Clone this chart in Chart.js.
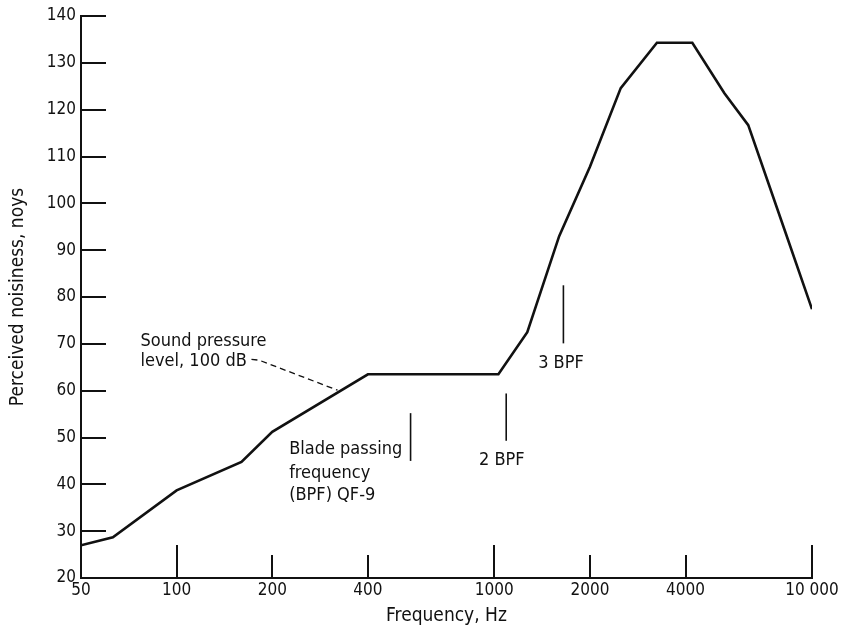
<!DOCTYPE html>
<html>
<head>
<meta charset="utf-8">
<script src="https://cdn.jsdelivr.net/npm/chart.js@4/dist/chart.umd.min.js"></script>
<style>
  html, body { margin: 0; padding: 0; background: #fff; }
</style>
</head>
<body>
<canvas id="myChart" width="842" height="631"></canvas>
<script>
// perceived noisiness curve
var freqHz = [50, 63, 100, 160, 200, 400, 1030, 1270, 1600, 2000, 2500, 3250, 4200, 5300, 6300, 8200, 10000];
var noys = [27.0, 28.7, 38.7, 44.8, 51.2, 63.5, 63.5, 72.5, 93.0, 107.8, 124.6, 134.3, 134.3, 123.5, 116.7, 94.3, 77.4];

var xTickValues = [50, 100, 200, 400, 1000, 2000, 4000, 10000];
var xTickLabels = ['50', '100', '200', '400', '1000', '2000', '4000', '10 000'];
var xTallTicks = [100, 1000, 10000];

// blade passing frequency markers (1, 2, 3 BPF)
var bpfFreq = [545, 1090, 1650];
var bpfLow = [45.0, 49.3, 70.1];
var bpfHigh = [55.2, 59.4, 82.5];

// dashed leader from the "Sound pressure level" note to the curve
var leaderFreq = [172, 182, 321];
var leaderNoys = [66.7, 66.5, 60.1];

var FONT = '"DejaVu Sans Condensed", "DejaVu Sans", sans-serif';
var INK = '#111';

function pts(xs, ys) {
  var out = [];
  for (var i = 0; i < xs.length; i++) out.push({x: xs[i], y: ys[i]});
  return out;
}

var datasets = [{
  data: pts(freqHz, noys),
  borderColor: INK,
  borderWidth: 2.6,
  pointRadius: 0,
  tension: 0
}, {
  data: pts(leaderFreq, leaderNoys),
  borderColor: INK,
  borderWidth: 1.3,
  borderDash: [6, 4],
  pointRadius: 0,
  tension: 0
}];
for (var i = 0; i < bpfFreq.length; i++) {
  datasets.push({
    data: pts([bpfFreq[i], bpfFreq[i]], [bpfLow[i], bpfHigh[i]]),
    borderColor: INK,
    borderWidth: 1.6,
    pointRadius: 0
  });
}

// inward tick marks and the text notes
var marksPlugin = {
  id: 'marks',
  afterDatasetsDraw: function(chart) {
    var ctx = chart.ctx;
    var xs = chart.scales.x, ys = chart.scales.y;
    var area = chart.chartArea;
    ctx.save();
    ctx.strokeStyle = INK;
    ctx.lineWidth = 2;
    ctx.beginPath();
    for (var v = 30; v <= 140; v += 10) {
      var py = Math.round(ys.getPixelForValue(v));
      ctx.moveTo(area.left, py);
      ctx.lineTo(area.left + 25, py);
    }
    for (var i = 1; i < xTickValues.length; i++) {
      var px = Math.round(xs.getPixelForValue(xTickValues[i]));
      var len = xTallTicks.indexOf(xTickValues[i]) >= 0 ? 33 : 23;
      ctx.moveTo(px, area.bottom);
      ctx.lineTo(px, area.bottom - len);
    }
    ctx.stroke();

    ctx.fillStyle = INK;
    ctx.font = '18px ' + FONT;
    ctx.textBaseline = 'middle';
    ctx.textAlign = 'left';
    var sx = xs.getPixelForValue(77);
    ctx.fillText('Sound pressure', sx, ys.getPixelForValue(70.6));
    ctx.fillText('level, 100 dB', sx, ys.getPixelForValue(66.3));
    var bx = xs.getPixelForValue(226);
    ctx.fillText('Blade passing', bx, ys.getPixelForValue(47.5));
    ctx.fillText('frequency', bx, ys.getPixelForValue(42.4));
    ctx.fillText('(BPF) QF-9', bx, ys.getPixelForValue(37.6));
    ctx.textAlign = 'center';
    ctx.fillText('2 BPF', xs.getPixelForValue(1056), ys.getPixelForValue(45.1));
    ctx.fillText('3 BPF', xs.getPixelForValue(1621), ys.getPixelForValue(65.9));
    ctx.restore();
  }
};

var ctx = document.getElementById('myChart');
var myChart = new Chart(ctx, {
  type: 'line',
  data: { datasets: datasets },
  options: {
    responsive: false,
    animation: false,
    events: [],
    layout: { padding: { left: 0, right: 30, top: 16, bottom: 0 } },
    plugins: { legend: { display: false }, tooltip: { enabled: false } },
    scales: {
      x: {
        type: 'logarithmic',
        min: 50,
        max: 10000,
        afterBuildTicks: function(scale) {
          scale.ticks = xTickValues.map(function(v) { return {value: v}; });
        },
        afterFit: function(scale) { scale.height = 53; },
        grid: { display: false, drawTicks: false },
        border: { display: true, width: 2, color: INK },
        ticks: {
          autoSkip: false,
          maxRotation: 0,
          padding: 2,
          color: INK,
          font: { family: FONT, size: 17 },
          callback: function(value) {
            var k = xTickValues.indexOf(value);
            return k >= 0 ? xTickLabels[k] : '';
          }
        },
        title: {
          display: true,
          text: 'Frequency, Hz',
          color: INK,
          font: { family: FONT, size: 19 },
          padding: { top: 0, bottom: 4 }
        }
      },
      y: {
        min: 20,
        max: 140,
        afterFit: function(scale) { scale.width = 81; },
        grid: { display: false, drawTicks: false },
        border: { display: true, width: 2, color: INK },
        ticks: {
          stepSize: 10,
          padding: 5,
          color: INK,
          font: { family: FONT, size: 17 }
        },
        title: {
          display: true,
          text: 'Perceived noisiness, noys',
          color: INK,
          font: { family: FONT, size: 19 },
          padding: { top: 7, bottom: 0 }
        }
      }
    }
  },
  plugins: [marksPlugin]
});
</script>
</body>
</html>
